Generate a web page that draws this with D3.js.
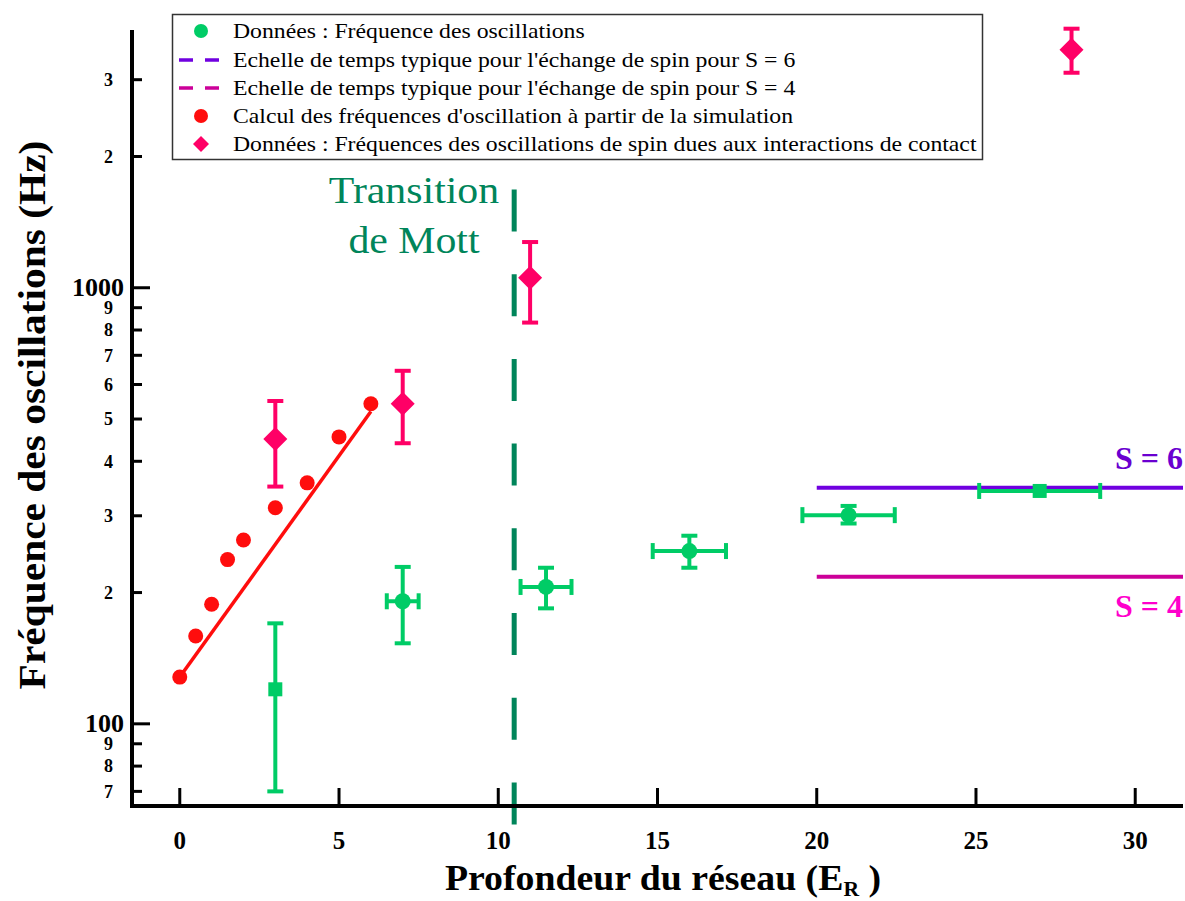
<!DOCTYPE html>
<html>
<head>
<meta charset="utf-8">
<script src="https://cdn.jsdelivr.net/npm/d3@7/dist/d3.min.js"></script>
<style>
	body { margin: 0; background: #fff; }
	svg { display: block; font-family: "Liberation Serif", "Times New Roman", serif; }
</style>
</head>
<body>
<svg id="chart" width="1185" height="901"></svg>
<script>
// Simulation (red points) and exponential fit
var simDepth = [0, 0.5, 1, 1.5, 2, 3, 4, 5, 6];
var simFreq = [128, 159, 188, 238, 264, 313, 357, 455, 542];
var fitDepth = [0, 6];
var fitFreq = [128, 520];

// Oscillation data (green)
var oscDepth = [3, 7, 11.5, 16, 21, 27];
var oscFreq = [120, 191, 206, 249, 301, 342];
var oscFreqLow = [70, 153, 184, 228, 288, 342];
var oscFreqHigh = [170, 229, 228, 270, 316, 342];
var oscDepthErr = [0, 0.5, 0.8, 1.15, 1.45, 1.9];

// Contact interaction data (pink diamonds)
var contactDepth = [3, 7, 11, 28];
var contactFreq = [450, 542, 1054, 3516];
var contactLow = [350, 440, 832, 3112];
var contactHigh = [550, 645, 1273, 3927];

// Spin exchange time scales
var spinLabels = ["S = 6", "S = 4"];
var spinFreq = [348, 217.5];
var spinFromDepth = 20;

var mottDepth = 10.5;

var xTicks = [0, 5, 10, 15, 20, 25, 30];
var yMajorTicks = [100, 1000];
var yMinorTicks = [70, 80, 90, 200, 300, 400, 500, 600, 700, 800, 900, 2000, 3000];

var legendLabels = [
	"Données : Fréquence des oscillations",
	"Echelle de temps typique pour l'échange de spin pour S = 6",
	"Echelle de temps typique pour l'échange de spin pour S = 4",
	"Calcul des fréquences d'oscillation à partir de la simulation",
	"Données : Fréquences des oscillations de spin dues aux interactions de contact"
];

(function() {
	"use strict";

	var green = "#00cc66",
		red = "#ff0d0d",
		pink = "#ff0066",
		purple = "#7000e0",
		magenta = "#cc0099",
		mottGreen = "#00855a";

	var svg = d3.select("#chart");

	var x = d3.scaleLinear().domain([-1.5, 31.5]).range([132, 1183]),
		y = d3.scaleLog().domain([64.8, 3900]).range([806, 30]);

	// Mott transition dashed line (drawn first, axis sits over it)
	svg.append("line")
		.attr("x1", x(mottDepth)).attr("x2", x(mottDepth))
		.attr("y1", y(1680)).attr("y2", y.range()[0] + 19)
		.attr("stroke", mottGreen)
		.attr("stroke-width", 5)
		.attr("stroke-dasharray", "42,42.7");

	["Transition", "de Mott"].forEach(function(t, i) {
		svg.append("text")
			.attr("transform", "translate(414," + (203 + i * 50) + ") scale(1.1,1)")
			.attr("text-anchor", "middle")
			.attr("fill", mottGreen)
			.style("font-size", "38px")
			.text(t);
	});

	// Spin exchange horizontal lines
	var spinColors = [purple, magenta],
		spinTextColors = ["#6a00d0", "#ff00cc"],
		spinTextDy = [-19, 40];
	spinFreq.forEach(function(f, i) {
		svg.append("line")
			.attr("x1", x(spinFromDepth)).attr("x2", x.range()[1])
			.attr("y1", y(f)).attr("y2", y(f))
			.attr("stroke", spinColors[i])
			.attr("stroke-width", 4);
		svg.append("text")
			.attr("x", x.range()[1]).attr("y", y(f) + spinTextDy[i])
			.attr("text-anchor", "end")
			.attr("fill", spinTextColors[i])
			.style("font-size", "32px")
			.style("font-weight", "bold")
			.text(spinLabels[i]);
	});

	// Fit line
	svg.append("line")
		.attr("x1", x(fitDepth[0])).attr("y1", y(fitFreq[0]))
		.attr("x2", x(fitDepth[1])).attr("y2", y(fitFreq[1]))
		.attr("stroke", red)
		.attr("stroke-width", 3.5);

	// Simulation points
	svg.selectAll(".sim").data(simDepth).enter()
		.append("circle")
			.attr("class", "sim")
			.attr("cx", function(d) { return x(d); })
			.attr("cy", function(d, i) { return y(simFreq[i]); })
			.attr("r", 7.5)
			.attr("fill", red);

	// Error bar helpers
	function yErr(g, cx, lo, hi, color) {
		if (lo === hi) return;
		g.append("line").attr("x1", cx).attr("x2", cx).attr("y1", y(lo)).attr("y2", y(hi))
			.attr("stroke", color).attr("stroke-width", 4);
		[lo, hi].forEach(function(v) {
			g.append("line").attr("x1", cx - 8).attr("x2", cx + 8).attr("y1", y(v)).attr("y2", y(v))
				.attr("stroke", color).attr("stroke-width", 4);
		});
	}
	function xErr(g, cy, d, err, color) {
		if (!err) return;
		g.append("line").attr("x1", x(d - err)).attr("x2", x(d + err)).attr("y1", cy).attr("y2", cy)
			.attr("stroke", color).attr("stroke-width", 4);
		[d - err, d + err].forEach(function(v) {
			g.append("line").attr("x1", x(v)).attr("x2", x(v)).attr("y1", cy - 8).attr("y2", cy + 8)
				.attr("stroke", color).attr("stroke-width", 4);
		});
	}

	// Oscillation data
	var squareAt = [3, 27];
	oscDepth.forEach(function(d, i) {
		var g = svg.append("g").attr("class", "osc"),
			cx = x(d), cy = y(oscFreq[i]);
		yErr(g, cx, oscFreqLow[i], oscFreqHigh[i], green);
		xErr(g, cy, d, oscDepthErr[i], green);
		if (squareAt.indexOf(d) >= 0) {
			g.append("rect").attr("x", cx - 7).attr("y", cy - 7).attr("width", 14).attr("height", 14)
				.attr("fill", green);
		} else {
			g.append("circle").attr("cx", cx).attr("cy", cy).attr("r", 8).attr("fill", green);
		}
	});

	// Contact interaction data
	contactDepth.forEach(function(d, i) {
		var g = svg.append("g").attr("class", "contact"),
			cx = x(d), cy = y(contactFreq[i]);
		yErr(g, cx, contactLow[i], contactHigh[i], pink);
		g.append("path")
			.attr("d", "M" + cx + "," + (cy - 12) + "L" + (cx + 12) + "," + cy + "L" + cx + "," + (cy + 12) + "L" + (cx - 12) + "," + cy + "Z")
			.attr("fill", pink);
	});

	// Axes
	var axes = svg.append("g").attr("class", "axes");
	axes.append("line")
		.attr("x1", x.range()[0]).attr("x2", x.range()[1])
		.attr("y1", y.range()[0]).attr("y2", y.range()[0])
		.attr("stroke", "#000").attr("stroke-width", 4);
	axes.append("line")
		.attr("x1", x.range()[0]).attr("x2", x.range()[0])
		.attr("y1", y.range()[1]).attr("y2", y.range()[0] + 2)
		.attr("stroke", "#000").attr("stroke-width", 4);

	axes.selectAll(".xtick").data(xTicks).enter()
		.append("line")
			.attr("class", "xtick")
			.attr("x1", function(d) { return x(d); }).attr("x2", function(d) { return x(d); })
			.attr("y1", y.range()[0]).attr("y2", y.range()[0] - 18)
			.attr("stroke", "#000").attr("stroke-width", 3);
	axes.selectAll(".xlabel").data(xTicks).enter()
		.append("text")
			.attr("class", "xlabel")
			.attr("x", function(d) { return x(d); })
			.attr("y", 849)
			.attr("text-anchor", "middle")
			.style("font-size", "25px")
			.style("font-weight", "bold")
			.text(function(d) { return d; });

	axes.selectAll(".ymajor").data(yMajorTicks).enter()
		.append("line")
			.attr("class", "ymajor")
			.attr("x1", x.range()[0]).attr("x2", x.range()[0] + 18)
			.attr("y1", function(d) { return y(d); }).attr("y2", function(d) { return y(d); })
			.attr("stroke", "#000").attr("stroke-width", 3);
	axes.selectAll(".yminor").data(yMinorTicks).enter()
		.append("line")
			.attr("class", "yminor")
			.attr("x1", x.range()[0]).attr("x2", x.range()[0] + 10)
			.attr("y1", function(d) { return y(d); }).attr("y2", function(d) { return y(d); })
			.attr("stroke", "#000").attr("stroke-width", 3);
	axes.selectAll(".ymajorlabel").data(yMajorTicks).enter()
		.append("text")
			.attr("class", "ymajorlabel")
			.attr("x", 124)
			.attr("y", function(d) { return y(d); })
			.attr("dy", "0.33em")
			.attr("text-anchor", "end")
			.style("font-size", "26px")
			.style("font-weight", "bold")
			.text(function(d) { return d; });
	axes.selectAll(".yminorlabel").data(yMinorTicks).enter()
		.append("text")
			.attr("class", "yminorlabel")
			.attr("x", 113)
			.attr("y", function(d) { return y(d); })
			.attr("dy", "0.35em")
			.attr("text-anchor", "end")
			.style("font-size", "18px")
			.style("font-weight", "bold")
			.text(function(d) { return String(d).charAt(0); });

	// Axis titles
	var xTitle = svg.append("text")
		.attr("transform", "translate(663,890) scale(1.08,1)")
		.attr("text-anchor", "middle")
		.style("font-size", "35px")
		.style("font-weight", "bold");
	xTitle.append("tspan").text("Profondeur du réseau (E");
	xTitle.append("tspan").attr("dy", 6).style("font-size", "20px").text("R");
	xTitle.append("tspan").attr("dy", -6).text(" )");

	svg.append("text")
		.attr("transform", "translate(45,415) rotate(-90) scale(1.12,1)")
		.attr("text-anchor", "middle")
		.style("font-size", "37px")
		.style("font-weight", "bold")
		.text("Fréquence des oscillations (Hz)");

	// Legend
	var legend = svg.append("g").attr("class", "legend");
	legend.append("rect")
		.attr("x", 172.5).attr("y", 14.5)
		.attr("width", 810).attr("height", 145)
		.attr("fill", "#fff")
		.attr("stroke", "#333").attr("stroke-width", 1.5);

	var rowY = [31, 60, 88, 116, 144];
	var rows = legend.selectAll(".legend-row").data(legendLabels).enter()
		.append("g")
			.attr("class", "legend-row")
			.attr("transform", function(d, i) { return "translate(0," + rowY[i] + ")"; });
	rows.append("text")
		.attr("transform", "translate(233,7) scale(1.13,1)")
		.style("font-size", "21px")
		.text(function(d) { return d; });

	rows.each(function(d, i) {
		var row = d3.select(this);
		if (i === 0 || i === 3) {
			row.append("circle").attr("cx", 201).attr("cy", 0).attr("r", 7)
				.attr("fill", i === 0 ? green : red);
		} else if (i === 1 || i === 2) {
			row.append("line").attr("x1", 179).attr("x2", 219).attr("y1", 0).attr("y2", 0)
				.attr("stroke", i === 1 ? purple : magenta)
				.attr("stroke-width", 3.5)
				.attr("stroke-dasharray", "14,12");
		} else {
			row.append("path").attr("d", "M201,-8L209,0L201,8L193,0Z").attr("fill", pink);
		}
	});
})();
</script>
</body>
</html>
